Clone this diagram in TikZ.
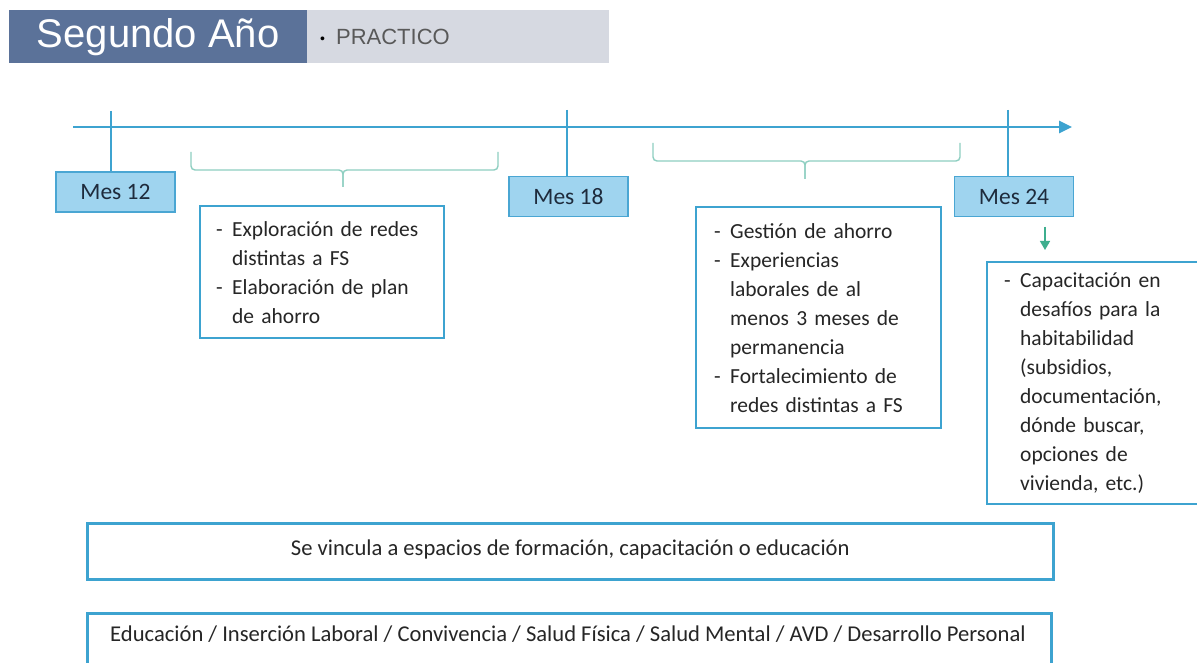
\documentclass[tikz,border=0pt]{standalone}
\usepackage{fontspec}
\setmainfont{Carlito}
\newfontfamily\arialf{Liberation Sans}
\usetikzlibrary{arrows.meta}
\definecolor{hdrblue}{HTML}{5B7299}
\definecolor{hdrgray}{HTML}{D6D9E1}
\definecolor{tlblue}{HTML}{3DA3D0}
\definecolor{mesfill}{HTML}{9FD4EF}
\definecolor{mesdraw}{HTML}{4AA6D3}
\definecolor{bracec}{HTML}{8ECFC1}
\definecolor{garrow}{HTML}{3EAE8E}
\definecolor{txt}{HTML}{262626}
\definecolor{mestxt}{HTML}{1E2B3C}
\newcommand{\itm}[1]{\hangindent=16pt\hangafter=1\rightskip=0pt plus 1fil\noindent\makebox[16pt][l]{-}#1\par}
\begin{document}
\begin{tikzpicture}[x=1pt,y=-1pt,
  tline/.style={draw=tlblue,line width=2.6pt},
  mesbox/.style={draw=mesdraw,fill=mesfill,line width=1.2pt,minimum width=119pt,minimum height=40pt,inner sep=0pt,
     font=\fontsize{23.5}{26}\selectfont,text=mestxt},
  infobox/.style={draw=tlblue,line width=2.4pt,align=left,text=txt,anchor=north west,
     font=\fontsize{21.5}{29}\selectfont,inner ysep=0pt},
  wide/.style={draw=tlblue,line width=2.6pt,anchor=north west,text=txt,minimum height=56pt,inner sep=0pt,
     font=\fontsize{22.6}{26}\selectfont},
  bracestyle/.style={draw=bracec,line width=1.4pt,rounded corners=4pt}
]
\clip (0,0) rectangle (1197,663);
\fill[white] (0,0) rectangle (1197,663);

% header
\node[fill=hdrblue,anchor=north west,minimum width=298pt,minimum height=53pt,inner sep=0pt,text=white,
  font=\arialf\fontsize{40}{44}\selectfont] (title) at (9,10) {Segundo Año};
\node[fill=hdrgray,anchor=north west,minimum width=302pt,minimum height=53pt,inner sep=0pt] (sub) at (307,10) {};
\node[anchor=west,text=black!65,font=\arialf\fontsize{22}{26}\selectfont,inner sep=0pt] (subtxt) at (320,37)
  {\textcolor{black}{\raisebox{1pt}{\fontsize{14}{14}\selectfont•}}\hspace{11pt}PRACTICO};

% timeline
\coordinate (tls) at (73,127);
\coordinate (tle) at (1072,127);
\draw[tline,-{Triangle[length=13pt,width=12pt]}] (tls) -- (tle);

% month boxes
\node[mesbox] (m12) at (115.5,192) {Mes 12};
\node[mesbox] (m18) at (568.5,196.5) {Mes 18};
\node[mesbox] (m24) at (1014,196.5) {Mes 24};
\coordinate (t12) at (111,111);
\coordinate (t18) at (567,110);
\coordinate (t24) at (1008,110);
\draw[tline] (t12) -- (t12 |- m12.north);
\draw[tline] (t18) -- (t18 |- m18.north);
\draw[tline] (t24) -- (t24 |- m24.north);

% braces
\coordinate (b1a) at (191,152);
\coordinate (b1b) at (498,152);
\coordinate (b1m) at (343,170);
\coordinate (b1t) at (343,187);
\draw[bracestyle] (b1a) -- (b1a |- b1m) -- (b1m) -- (b1t);
\draw[bracestyle] (b1b) -- (b1b |- b1m) -- (b1m) -- (b1t);
\coordinate (b2a) at (653,143);
\coordinate (b2b) at (960,143);
\coordinate (b2m) at (805,161);
\coordinate (b2t) at (805,179);
\draw[bracestyle] (b2a) -- (b2a |- b2m) -- (b2m) -- (b2t);
\draw[bracestyle] (b2b) -- (b2b |- b2m) -- (b2m) -- (b2t);

% info boxes
\node[infobox,inner xsep=16pt,text width=212pt,minimum height=132pt] (box1) at (199,205) {%
\itm{Exploración de redes\newline distintas a FS}%
\itm{Elaboración de plan\newline de ahorro}};
\node[infobox,inner xsep=18pt,text width=209pt,minimum height=221pt] (box2) at (695,206) {%
\itm{Gestión de ahorro}%
\itm{Experiencias\newline laborales de al\newline menos 3 meses de\newline permanencia}%
\itm{Fortalecimiento de\newline redes distintas a FS}};
\node[infobox,inner xsep=17pt,text width=200pt,minimum height=242pt] (box3) at (986,261) {%
\itm{Capacitación en\newline desafíos para la\newline habitabilidad\newline (subsidios,\newline documentación,\newline dónde buscar,\newline opciones de\newline vivienda, etc.)}};

% green arrow
\coordinate (ga1) at (1045,227);
\coordinate (ga2) at (1045,250);
\draw[draw=garrow,fill=garrow,line width=1.4pt,-{Triangle[length=9pt,width=10pt]}] (ga1) -- (ga2);

% bottom boxes
\node[wide,minimum width=966pt] (w1) at (86,522) {\raisebox{8pt}{Se vincula a espacios de formación, capacitación o educación}};
\node[wide,minimum width=964pt,minimum height=70pt] (w2) at (86,612) {};
\node[font=\fontsize{22.6}{26}\selectfont,text=txt,inner sep=0pt] (w2t) at (568,634) {Educación / Inserción Laboral / Convivencia / Salud Física / Salud Mental / AVD / Desarrollo Personal};
\end{tikzpicture}
\end{document}
